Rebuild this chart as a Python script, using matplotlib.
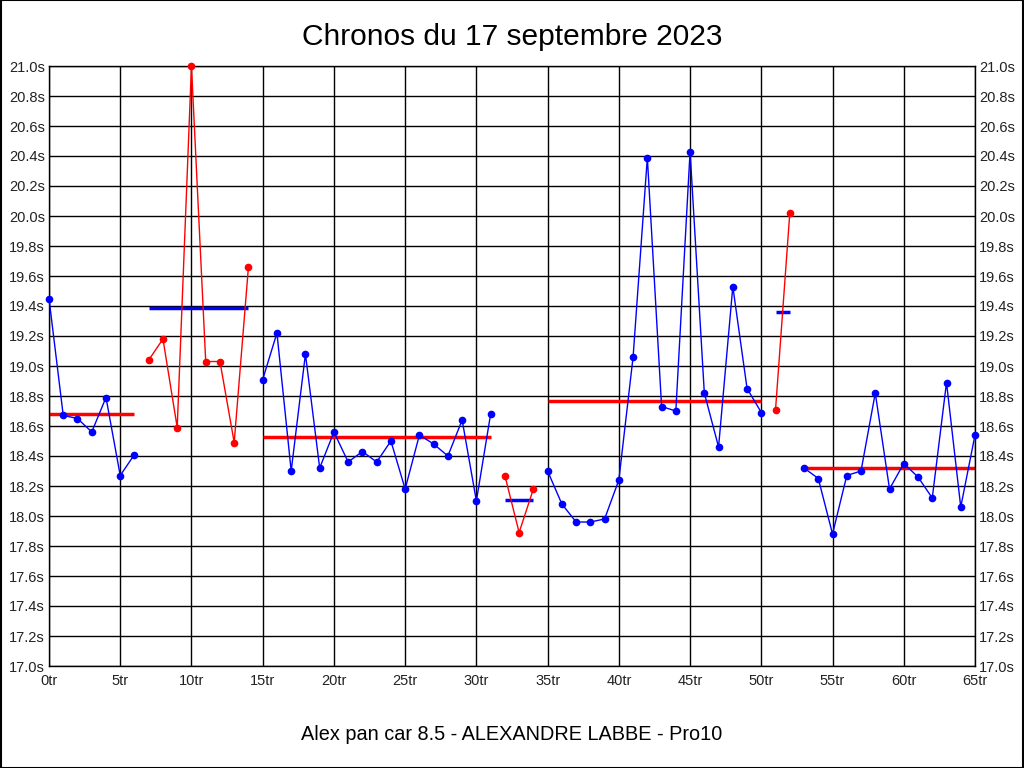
import matplotlib
matplotlib.use("Agg")
import matplotlib.pyplot as plt
from matplotlib.ticker import FuncFormatter, MultipleLocator

plt.rcParams['font.family'] = ['Liberation Sans', 'DejaVu Sans']

# temps au tour (s), tours 0 a 65
laps = list(range(66))
times = [19.45, 18.67, 18.65, 18.56, 18.79, 18.27, 18.41,
         19.04, 19.18, 18.59, 21.00, 19.03, 19.03, 18.49, 19.66,
         18.91, 19.22, 18.30, 19.08, 18.32, 18.56, 18.36, 18.43, 18.36,
         18.50, 18.18, 18.54, 18.48, 18.40, 18.64, 18.10, 18.68,
         18.27, 17.89, 18.18,
         18.30, 18.08, 17.96, 17.96, 17.98, 18.24, 19.06, 20.39, 18.73,
         18.70, 20.43, 18.82, 18.46, 19.53, 18.85, 18.69,
         18.71, 20.02,
         18.32, 18.25, 17.88, 18.27, 18.30, 18.82, 18.18, 18.35, 18.26,
         18.12, 18.89, 18.06, 18.54]

# relais : premier tour, dernier tour, couleur de la courbe
seg_start = [0, 7, 15, 32, 35, 51, 53]
seg_end = [6, 14, 31, 34, 50, 52, 65]
seg_color = ['blue', 'red', 'blue', 'red', 'blue', 'red', 'blue']
# moyenne de chaque relais
seg_mean = [18.68, 19.39, 18.53, 18.11, 18.77, 19.36, 18.32]

fig = plt.figure(figsize=(10.24, 7.68), dpi=100)
ax = fig.add_axes([49/1024, 1 - 666/768, 926/1024, 600/768])

for s, e, c, m in zip(seg_start, seg_end, seg_color, seg_mean):
    xs = laps[s:e + 1]
    ys = times[s:e + 1]
    ax.plot(xs, ys, color=c, lw=1, marker='o', ms=4.5, clip_on=False, zorder=3)
    mc = 'red' if c == 'blue' else 'blue'
    ax.plot([s, e], [m, m], color=mc, lw=2.5, solid_capstyle='butt', zorder=2)

ax.set_xlim(0, 65)
ax.set_ylim(17.0, 21.0)
ax.xaxis.set_major_locator(MultipleLocator(5))
ax.yaxis.set_major_locator(MultipleLocator(0.2))
ax.xaxis.set_major_formatter(FuncFormatter(lambda v, p: '%dtr' % v))
ax.yaxis.set_major_formatter(FuncFormatter(lambda v, p: '%.1fs' % v))
ax.tick_params(labelsize=10.5, length=0, pad=3, right=True, labelright=True, colors='#222222')
ax.tick_params(axis='x', pad=6)
ax.grid(True, color='black', lw=1)
ax.set_axisbelow(True)
for sp in ax.spines.values():
    sp.set_color('black')
    sp.set_linewidth(1)

fig.text(0.5, 1 - 37/768, 'Chronos du 17 septembre 2023', ha='center', va='center', fontsize=21.5)
fig.text(0.5, 1 - 735/768, 'Alex pan car 8.5 - ALEXANDRE LABBE - Pro10', ha='center', va='center', fontsize=14.3)

# cadre autour de l'image
fig.patches.append(plt.Rectangle((0.0005, 0.0005), 0.999, 0.999, transform=fig.transFigure,
                                 fill=False, edgecolor='black', lw=1.5))

fig.savefig('out.png', dpi=100)
